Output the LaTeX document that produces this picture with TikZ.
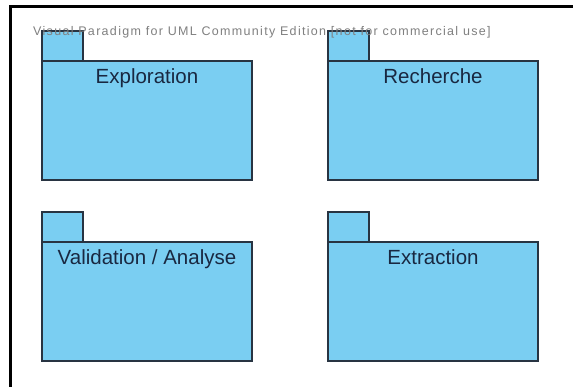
\documentclass[tikz,border=0pt]{standalone}
\usepackage{fontspec}
\setmainfont{Liberation Sans}
\newfontfamily\wmfont[LetterSpace=10.5]{Liberation Sans}
\definecolor{pkgfill}{RGB}{122,206,242}
\definecolor{pkgline}{RGB}{40,52,66}
\definecolor{pkgtext}{RGB}{25,40,65}
\definecolor{wmark}{RGB}{128,128,128}
\begin{document}
\begin{tikzpicture}[x=1pt,y=-1pt,
  pkgbody/.style={draw=pkgline,fill=pkgfill,line width=1.4pt,minimum width=210pt,minimum height=119pt,anchor=north west,inner sep=0pt,outer sep=0pt},
  pkgtab/.style={draw=pkgline,fill=pkgfill,line width=1.4pt,minimum width=41pt,minimum height=30pt,anchor=north west,inner sep=0pt,outer sep=0pt},
  pkglabel/.style={font=\fontsize{20.5}{22}\selectfont,text=pkgtext,anchor=base,inner sep=0pt}]
\useasboundingbox (0,0) rectangle (573,387);
\fill[white] (0,0) rectangle (573,387);
\draw[black,line width=3pt] (10.5,387) -- (10.5,6.5) -- (573,6.5);
% tabs
\node[pkgtab] (t1) at (42,31) {};
\node[pkgtab] (t2) at (328,31) {};
\node[pkgtab] (t3) at (42,212) {};
\node[pkgtab] (t4) at (328,212) {};
% bodies
\node[pkgbody] (b1) at (42,61) {};
\node[pkgbody] (b2) at (328,61) {};
\node[pkgbody] (b3) at (42,242) {};
\node[pkgbody] (b4) at (328,242) {};
% labels
\node[pkglabel] (l1) at ([yshift=-23pt]b1.north) {Exploration};
\node[pkglabel] (l2) at ([yshift=-23pt]b2.north) {Recherche};
\node[pkglabel] (l3) at ([yshift=-23pt]b3.north) {Validation / Analyse};
\node[pkglabel] (l4) at ([yshift=-23pt]b4.north) {Extraction};
% watermark
\node[anchor=base west,inner sep=0pt,text=wmark,font=\wmfont\fontsize{12.5}{14}\selectfont] (wm) at (33,35.5) {Visual Paradigm for UML Community Edition [not for commercial use]};
\end{tikzpicture}
\end{document}
